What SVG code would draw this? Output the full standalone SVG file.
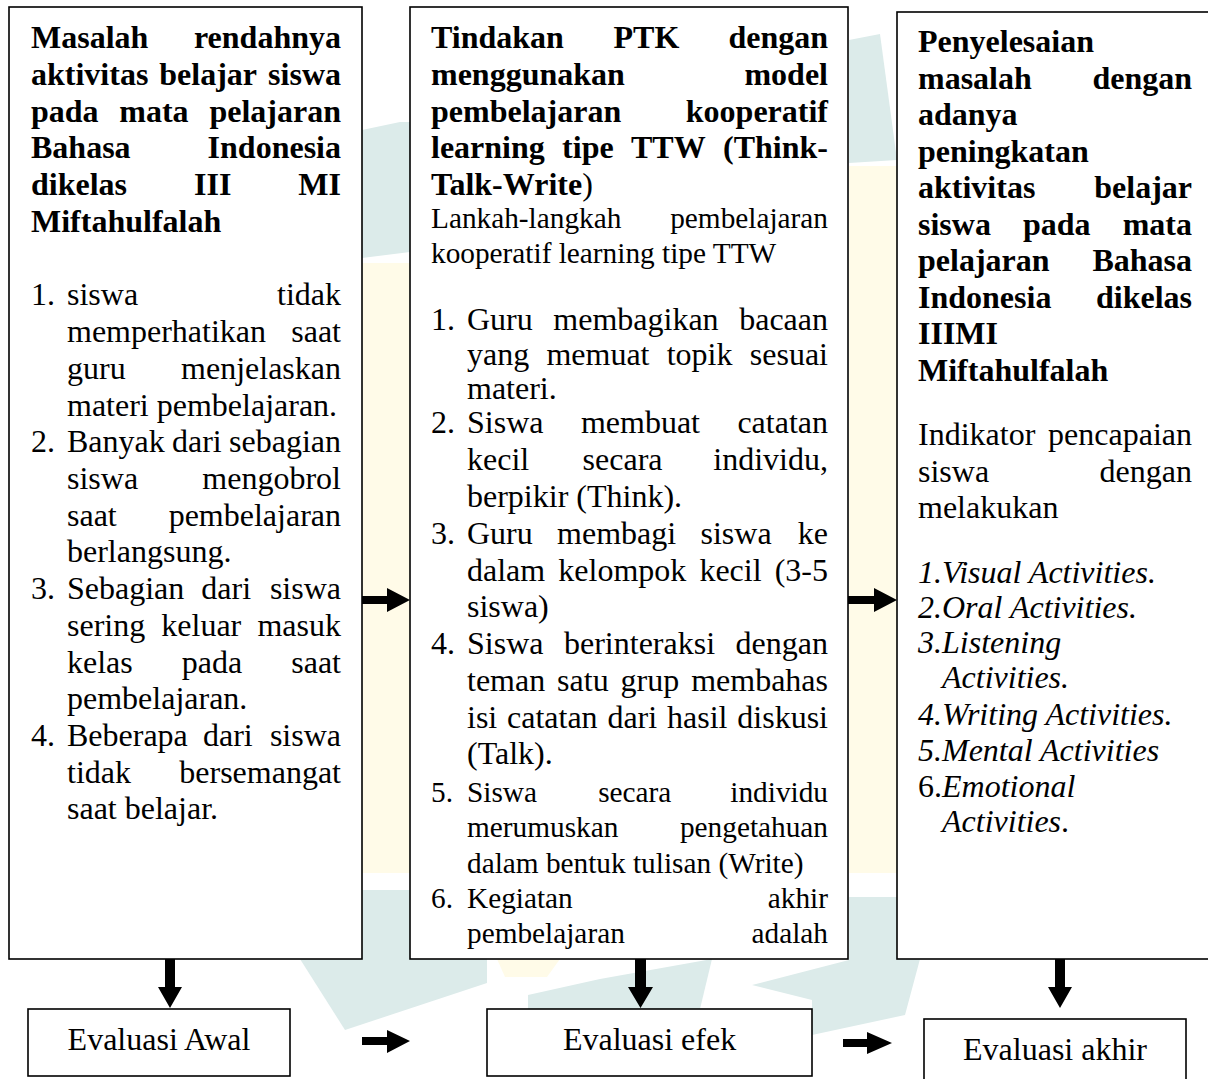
<svg xmlns="http://www.w3.org/2000/svg" width="1208" height="1079" viewBox="0 0 1208 1079">
<style>
text{font-family:"Liberation Serif","Times New Roman",serif;fill:#000}
.b{font-weight:bold;font-size:32px}
.r{font-size:32px}
.s{font-size:29.3px}
.i{font-size:32px;font-style:italic}
.e{text-anchor:end}
.m{text-anchor:middle}
.box{fill:#fff;stroke:#000;stroke-width:1.6}
.wt{fill:#dcebea}
.wy{fill:#fffbe8}
.arr{fill:#000}
</style>
<g id="watermark">
<polygon class="wt" points="362,130 400,122 410,122 410,252 362,258"/>
<rect class="wy" x="362" y="263" width="48" height="610"/>
<polygon class="wt" points="362,890 410,890 410,959 362,959"/>
<polygon class="wt" points="849,40 880,34 897,160 849,163"/>
<rect class="wy" x="849" y="166" width="48" height="707"/>
<polygon class="wt" points="300,959 487,959 487,983 345,1030"/>
<polygon class="wy" points="497,959 560,959 547,977 505,977"/>
<polygon class="wt" points="528,995 600,979 712,959 700,1009 528,1009"/>
<polygon class="wt" points="752,985 849,960 849,897 897,897 897,959 920,959 905,1015 812,1035 812,1000"/>
</g>
<g id="node-masalah">
<rect class="box" x="9" y="7" width="353" height="952"/>
<text class="b" y="48"><tspan x="31">Masalah</tspan></text><text class="b e" x="341" y="48">rendahnya</text>
<text class="b" y="84.75"><tspan x="31">aktivitas</tspan><tspan x="159.3">belajar</tspan></text><text class="b e" x="341" y="84.75">siswa</text>
<text class="b" y="121.5"><tspan x="31">pada</tspan><tspan x="119.3">mata</tspan></text><text class="b e" x="341" y="121.5">pelajaran</text>
<text class="b" y="158.25"><tspan x="31">Bahasa</tspan></text><text class="b e" x="341" y="158.25">Indonesia</text>
<text class="b" y="195"><tspan x="31">dikelas</tspan><tspan x="194">III</tspan></text><text class="b e" x="341" y="195">MI</text>
<text class="b" x="31" y="231.75">Miftahulfalah</text>
<text class="r" y="305"><tspan x="31">1.</tspan><tspan x="67">siswa</tspan></text><text class="r e" x="341" y="305">tidak</text>
<text class="r" x="67" y="342">memperhatikan</text><text class="r e" x="341" y="342">saat</text>
<text class="r" x="67" y="378.5">guru</text><text class="r e" x="341" y="378.5">menjelaskan</text>
<text class="r" x="67" y="415.5">materi pembelajaran.</text>
<text class="r" y="452"><tspan x="31">2.</tspan><tspan x="67">Banyak</tspan><tspan x="172">dari</tspan></text><text class="r e" x="341" y="452">sebagian</text>
<text class="r" x="67" y="489">siswa</text><text class="r e" x="341" y="489">mengobrol</text>
<text class="r" x="67" y="525.5">saat</text><text class="r e" x="341" y="525.5">pembelajaran</text>
<text class="r" x="67" y="562">berlangsung.</text>
<text class="r" y="599"><tspan x="31">3.</tspan><tspan x="67">Sebagian</tspan><tspan x="201.3">dari</tspan></text><text class="r e" x="341" y="599">siswa</text>
<text class="r" y="636"><tspan x="67">sering</tspan><tspan x="161.3">keluar</tspan></text><text class="r e" x="341" y="636">masuk</text>
<text class="r" y="672.5"><tspan x="67">kelas</tspan><tspan x="181.8">pada</tspan></text><text class="r e" x="341" y="672.5">saat</text>
<text class="r" x="67" y="709">pembelajaran.</text>
<text class="r" y="746"><tspan x="31">4.</tspan><tspan x="67">Beberapa</tspan><tspan x="203">dari</tspan></text><text class="r e" x="341" y="746">siswa</text>
<text class="r" x="67" y="782.5">tidak</text><text class="r e" x="341" y="782.5">bersemangat</text>
<text class="r" x="67" y="819">saat belajar.</text>
</g>
<g id="node-tindakan">
<rect class="box" x="410" y="7" width="438" height="952"/>
<text class="b" y="48"><tspan x="431">Tindakan</tspan><tspan x="613.5">PTK</tspan></text><text class="b e" x="828" y="48">dengan</text>
<text class="b" x="431" y="84.75">menggunakan</text><text class="b e" x="828" y="84.75">model</text>
<text class="b" x="431" y="121.5">pembelajaran</text><text class="b e" x="828" y="121.5">kooperatif</text>
<text class="b" y="158.25"><tspan x="431">learning</tspan><tspan x="562.1">tipe</tspan><tspan x="631">TTW</tspan></text><text class="b e" x="828" y="158.25">(Think-</text>
<text class="b" x="431" y="195">Talk-Write<tspan style="font-weight:normal">)</tspan></text>
<text class="s" x="431" y="228">Lankah-langkah</text><text class="s e" x="828" y="228">pembelajaran</text>
<text class="s" x="431" y="263">kooperatif learning tipe TTW</text>
<text class="r" y="330"><tspan x="431">1.</tspan><tspan x="467">Guru</tspan><tspan x="553.3">membagikan</tspan></text><text class="r e" x="828" y="330">bacaan</text>
<text class="r" y="365"><tspan x="467">yang</tspan><tspan x="546.4">memuat</tspan><tspan x="666.7">topik</tspan></text><text class="r e" x="828" y="365">sesuai</text>
<text class="r" x="467" y="399">materi.</text>
<text class="r" y="433"><tspan x="431">2.</tspan><tspan x="467">Siswa</tspan><tspan x="580.9">membuat</tspan></text><text class="r e" x="828" y="433">catatan</text>
<text class="r" y="470"><tspan x="467">kecil</tspan><tspan x="582.6">secara</tspan></text><text class="r e" x="828" y="470">individu,</text>
<text class="r" x="467" y="507">berpikir (Think).</text>
<text class="r" y="543.5"><tspan x="431">3.</tspan><tspan x="467">Guru</tspan><tspan x="557.1">membagi</tspan><tspan x="700.5">siswa</tspan></text><text class="r e" x="828" y="543.5">ke</text>
<text class="r" y="580.5"><tspan x="467">dalam</tspan><tspan x="558.3">kelompok</tspan><tspan x="699.4">kecil</tspan></text><text class="r e" x="828" y="580.5">(3-5</text>
<text class="r" x="467" y="617">siswa)</text>
<text class="r" y="654"><tspan x="431">4.</tspan><tspan x="467">Siswa</tspan><tspan x="564">berinteraksi</tspan></text><text class="r e" x="828" y="654">dengan</text>
<text class="r" y="691"><tspan x="467">teman</tspan><tspan x="557.1">satu</tspan><tspan x="620.6">grup</tspan></text><text class="r e" x="828" y="691">membahas</text>
<text class="r" y="728"><tspan x="467">isi</tspan><tspan x="507">catatan</tspan><tspan x="607.4">dari</tspan><tspan x="667">hasil</tspan></text><text class="r e" x="828" y="728">diskusi</text>
<text class="r" x="467" y="764">(Talk).</text>
<text class="s" y="802"><tspan x="431">5.</tspan><tspan x="467">Siswa</tspan><tspan x="598.2">secara</tspan></text><text class="s e" x="828" y="802">individu</text>
<text class="s" x="467" y="837">merumuskan</text><text class="s e" x="828" y="837">pengetahuan</text>
<text class="s" x="467" y="872.5">dalam bentuk tulisan (Write)</text>
<text class="s" y="908"><tspan x="431">6.</tspan><tspan x="467">Kegiatan</tspan></text><text class="s e" x="828" y="908">akhir</text>
<text class="s" x="467" y="943">pembelajaran</text><text class="s e" x="828" y="943">adalah</text>
</g>
<g id="node-penyelesaian">
<rect class="box" x="897" y="12" width="320" height="947"/>
<text class="b" x="918" y="52">Penyelesaian</text>
<text class="b" x="918" y="88.5">masalah</text><text class="b e" x="1192" y="88.5">dengan</text>
<text class="b" x="918" y="125">adanya</text>
<text class="b" x="918" y="161.5">peningkatan</text>
<text class="b" x="918" y="198">aktivitas</text><text class="b e" x="1192" y="198">belajar</text>
<text class="b" y="234.5"><tspan x="918">siswa</tspan><tspan x="1023">pada</tspan></text><text class="b e" x="1192" y="234.5">mata</text>
<text class="b" x="918" y="271">pelajaran</text><text class="b e" x="1192" y="271">Bahasa</text>
<text class="b" x="918" y="307.5">Indonesia</text><text class="b e" x="1192" y="307.5">dikelas</text>
<text class="b" x="918" y="344">IIIMI</text>
<text class="b" x="918" y="380.5">Miftahulfalah</text>
<text class="r" x="918" y="445">Indikator</text><text class="r e" x="1192" y="445">pencapaian</text>
<text class="r" x="918" y="482">siswa</text><text class="r e" x="1192" y="482">dengan</text>
<text class="r" x="918" y="518">melakukan</text>
<text class="i" x="918" y="583">1.Visual Activities.</text>
<text class="i" x="918" y="618">2.Oral Activities.</text>
<text class="i" x="918" y="653">3.Listening</text>
<text class="i" x="942" y="688">Activities.</text>
<text class="i" x="918" y="725">4.Writing Activities.</text>
<text class="i" x="918" y="761">5.Mental Activities</text>
<text class="r" x="918" y="797">6.<tspan style="font-style:italic">Emotional</tspan></text>
<text class="i" x="942" y="832">Activities<tspan style="font-style:normal">.</tspan></text>
</g>
<g id="node-evaluasi-awal">
<rect class="box" x="28" y="1009" width="262" height="67"/>
<text class="r m" x="159" y="1050">Evaluasi Awal</text>
</g>
<g id="node-evaluasi-efek">
<rect class="box" x="487" y="1009" width="325" height="67"/>
<text class="r m" x="649.5" y="1050">Evaluasi efek</text>
</g>
<g id="node-evaluasi-akhir">
<rect class="box" x="924" y="1019" width="262" height="80"/>
<text class="r m" x="1055" y="1060">Evaluasi akhir</text>
</g>
<g id="connectors">
<polygon class="arr" points="362,596 387,596 387,588 410,600 387,612 387,604 362,604"/>
<polygon class="arr" points="848,596 874,596 874,588 897,600 874,612 874,604 848,604"/>
<polygon class="arr" points="362,1037 387,1037 387,1030 410,1041 387,1053 387,1045 362,1045"/>
<polygon class="arr" points="843,1039 867,1039 867,1032 892,1043 867,1054 867,1047 843,1047"/>
<polygon class="arr" points="165,959 175,959 175,987 182,987 170,1008 158,987 165,987"/>
<polygon class="arr" points="635,959 646,959 646,987 653,987 640.5,1008 628,987 635,987"/>
<polygon class="arr" points="1055,959 1065,959 1065,987 1072,987 1060,1008 1048,987 1055,987"/>
</g>
</svg>
